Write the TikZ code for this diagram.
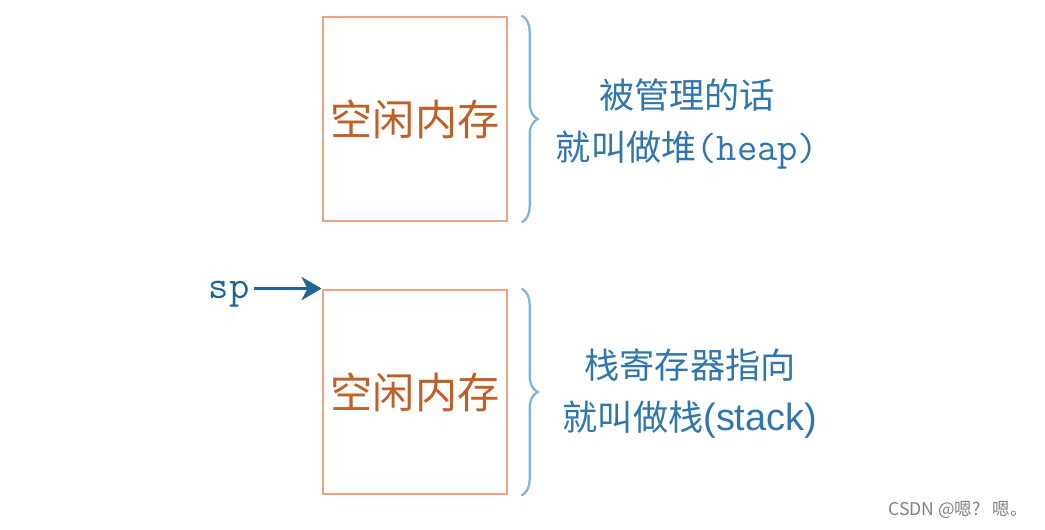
\documentclass[tikz,border=0pt]{standalone}
\usepackage{fontspec}
\setmainfont{Liberation Sans}
\setsansfont{Liberation Sans}
\setmonofont{Latin Modern Mono}
\newfontfamily\cjk{Noto Sans CJK SC}
\usetikzlibrary{arrows.meta,positioning,decorations.pathreplacing}
\definecolor{memEdge}{RGB}{241,160,128}
\definecolor{memText}{RGB}{192,96,40}
\definecolor{noteText}{RGB}{48,118,172}
\definecolor{braceCol}{RGB}{130,178,225}
\definecolor{spCol}{RGB}{32,100,152}
\tikzset{
    every node/.append style={align=center},
    mem/.style={rectangle,draw=memEdge,line width=2pt,minimum width=4.6cm,
        minimum height=5.1cm,inner sep=0pt,text=memText,
        font=\cjk\fontsize{30}{36}\selectfont},
    note/.style={text=noteText,font=\cjk\fontsize{25}{37}\selectfont},
    brc/.style={draw=braceCol,line width=1.6pt,decorate,
        decoration={brace,amplitude=0.4cm}},
    arr/.style={-{Stealth[length=5mm,width=5.8mm,inset=1.5mm]},draw=spCol,line width=2.6pt},
    wmark/.style={text=gray,font=\cjk\fontsize{12.5}{14}\selectfont}
}
\begin{document}
\begin{tikzpicture}[x=0.025cm,y=-0.025cm]
    \useasboundingbox (0,0) rectangle (1045,529);
    \node[mem] (heap) at (415,119) {\raisebox{-3pt}{空闲内存}};
    \node[mem] (stack) at (415,392) {\raisebox{-3pt}{空闲内存}};

    \draw[brc] ([xshift=0.33cm]heap.north east) -- ([xshift=0.33cm]heap.south east);
    \draw[brc] ([xshift=0.33cm]stack.north east) -- ([xshift=0.33cm]stack.south east);

    \node[note] (heapnote) at (687,124) {被管理的话\\就叫做堆{\ttfamily\fontsize{28}{37}\selectfont(heap)}};
    \node[note] (stacknote) at (690,394) {栈寄存器指向\\就叫做栈{\sffamily\fontsize{27}{37}\selectfont(stack)}};

    \node[text=spCol,font=\ttfamily\fontsize{28}{30}\selectfont,anchor=east] (sp)
        at ([xshift=-1.68cm,yshift=-0.13cm]stack.north west) {sp};
    \draw[arr] (sp.east |- stack.north west) -- (stack.north west);

    \node[wmark] (csdn) at (958,510) {CSDN @嗯?\ \ \ 嗯。};
\end{tikzpicture}
\end{document}
